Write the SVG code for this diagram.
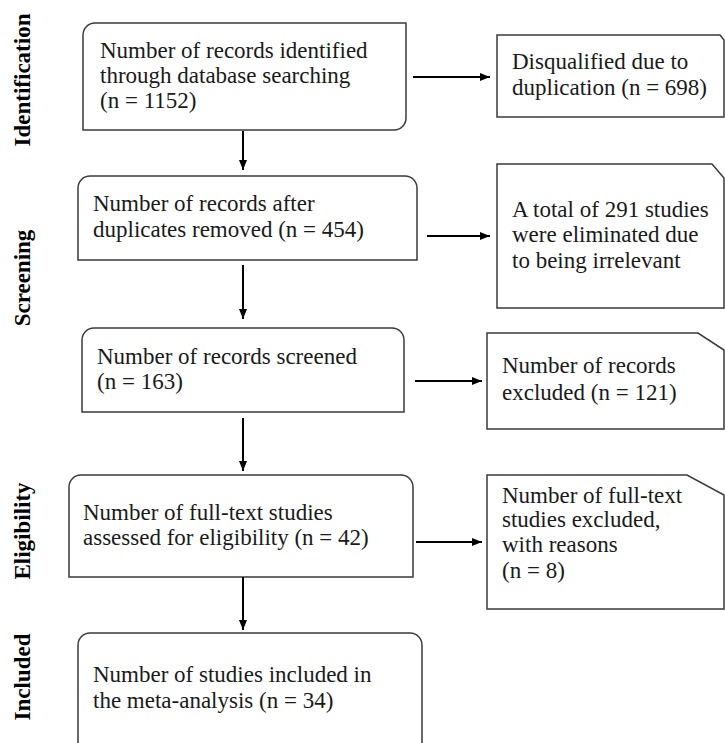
<svg xmlns="http://www.w3.org/2000/svg" width="725" height="743" viewBox="0 0 725 743">
<defs>
<marker id="ah" viewBox="0 0 10 8" refX="10" refY="4" markerWidth="10" markerHeight="8" markerUnits="userSpaceOnUse" orient="auto">
<path d="M0,0 L10,4 L0,8 Z" fill="#000"/>
</marker>
<style>
.box{fill:#fff;stroke:#3a3a3a;stroke-width:1.5}
.t{font-family:"Liberation Serif","Times New Roman",serif;font-size:23px;fill:#1a1a1a}
.s{font-family:"Liberation Serif","Times New Roman",serif;font-size:23px;font-weight:bold;fill:#000;text-anchor:middle}
.c{stroke:#000;stroke-width:2;fill:none;marker-end:url(#ah)}
</style>
</defs>
<rect width="725" height="743" fill="#fff"/>
<g id="stages">
<text class="s" transform="translate(30,80) rotate(-90)">Identification</text>
<text class="s" transform="translate(30,278) rotate(-90)">Screening</text>
<text class="s" transform="translate(30,531) rotate(-90)">Eligibility</text>
<text class="s" transform="translate(30,677) rotate(-90)">Included</text>
</g>
<g id="n1">
<path class="box" d="M83,130 V35 A12,12 0 0 1 95,23 H406 V118 A12,12 0 0 1 394,130 Z"/>
<text class="t" x="100" y="58">Number of records identified</text>
<text class="t" x="100" y="83">through database searching</text>
<text class="t" x="100" y="108">(n = 1152)</text>
</g>
<g id="n2">
<path class="box" d="M78,260 V188 A12,12 0 0 1 90,176 H405 A12,12 0 0 1 417,188 V260 Z"/>
<text class="t" x="93" y="211">Number of records after</text>
<text class="t" x="93" y="237">duplicates removed (n = 454)</text>
</g>
<g id="n3">
<path class="box" d="M82,412 V340 A12,12 0 0 1 94,328 H392 A12,12 0 0 1 404,340 V412 Z"/>
<text class="t" x="97" y="364">Number of records screened</text>
<text class="t" x="97" y="389">(n = 163)</text>
</g>
<g id="n4">
<path class="box" d="M69,577 V487 A12,12 0 0 1 81,475 H401 A12,12 0 0 1 413,487 V577 Z"/>
<text class="t" x="83" y="520">Number of full-text studies</text>
<text class="t" x="83" y="545">assessed for eligibility (n = 42)</text>
</g>
<g id="n5">
<path class="box" d="M78,750 V645 A12,12 0 0 1 90,633 H410 A12,12 0 0 1 422,645 V750"/>
<text class="t" x="93" y="682">Number of studies included in</text>
<text class="t" x="93" y="708">the meta-analysis (n = 34)</text>
</g>
<g id="r1">
<path class="box" d="M497,35 H720 L724,40 V117 H497 Z"/>
<text class="t" x="512" y="69">Disqualified due to</text>
<text class="t" x="512" y="95">duplication (n = 698)</text>
</g>
<g id="r2">
<path class="box" d="M497,164 H712 L724,178 V308 H497 Z"/>
<text class="t" x="512" y="217">A total of 291 studies</text>
<text class="t" x="512" y="242">were eliminated due</text>
<text class="t" x="512" y="268">to being irrelevant</text>
</g>
<g id="r3">
<path class="box" d="M487,333 H698 L724,350 V429 H487 Z"/>
<text class="t" x="502" y="373">Number of records</text>
<text class="t" x="502" y="400">excluded (n = 121)</text>
</g>
<g id="r4">
<path class="box" d="M487,475 H687 L724,495 V609 H487 Z"/>
<text class="t" x="502" y="503">Number of full-text</text>
<text class="t" x="502" y="527">studies excluded,</text>
<text class="t" x="502" y="552">with reasons</text>
<text class="t" x="502" y="578">(n = 8)</text>
</g>
<g id="connectors">
<line class="c" x1="243" y1="131" x2="243" y2="170"/>
<line class="c" x1="243" y1="265" x2="243" y2="319"/>
<line class="c" x1="243" y1="418" x2="243" y2="471"/>
<line class="c" x1="243" y1="577" x2="243" y2="630"/>
<line class="c" x1="413" y1="77" x2="490" y2="77"/>
<line class="c" x1="427" y1="236" x2="490" y2="236"/>
<line class="c" x1="415" y1="381" x2="482" y2="381"/>
<line class="c" x1="416" y1="542" x2="482" y2="542"/>
</g>
</svg>
